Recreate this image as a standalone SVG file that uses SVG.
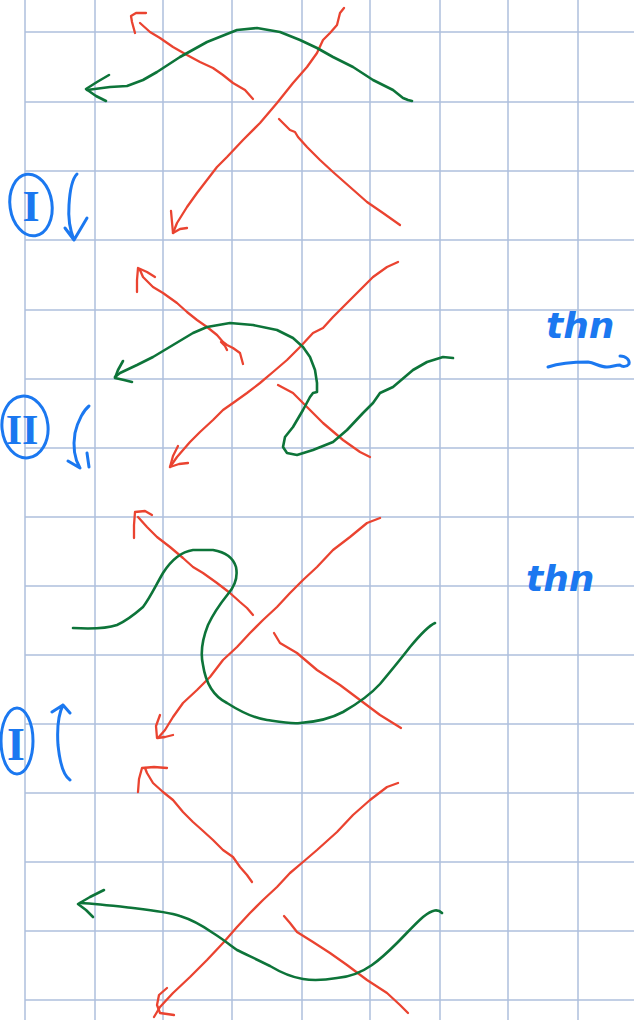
<svg xmlns="http://www.w3.org/2000/svg" width="634" height="1020" viewBox="0 0 634 1020">
<style>
.grid line{stroke:#aebfdd;stroke-width:1.5}
.r{fill:none;stroke:#ea4330;stroke-width:2.3;stroke-linecap:round;stroke-linejoin:round}
.g{fill:none;stroke:#0d7439;stroke-width:2.6;stroke-linecap:round;stroke-linejoin:round}
.b{fill:none;stroke:#1b78f0;stroke-width:3;stroke-linecap:round;stroke-linejoin:round}
.bt{fill:#1b78f0;font-family:'Liberation Serif',serif;font-weight:bold}
.ht{fill:#1b78f0;font-family:'DejaVu Sans',sans-serif;font-style:italic;font-weight:bold}
</style>
<rect width="634" height="1020" fill="#ffffff"/>
<g class="grid">
<line x1="25" y1="0" x2="25" y2="1020"/><line x1="95" y1="0" x2="95" y2="1020"/><line x1="163" y1="0" x2="163" y2="1020"/><line x1="232" y1="0" x2="232" y2="1020"/><line x1="302" y1="0" x2="302" y2="1020"/><line x1="370" y1="0" x2="370" y2="1020"/><line x1="440" y1="0" x2="440" y2="1020"/><line x1="508" y1="0" x2="508" y2="1020"/><line x1="578" y1="0" x2="578" y2="1020"/>
<line x1="25" y1="32" x2="634" y2="32"/><line x1="25" y1="102" x2="634" y2="102"/><line x1="25" y1="171" x2="634" y2="171"/><line x1="25" y1="240" x2="634" y2="240"/><line x1="25" y1="310" x2="634" y2="310"/><line x1="25" y1="379" x2="634" y2="379"/><line x1="25" y1="448" x2="634" y2="448"/><line x1="25" y1="517" x2="634" y2="517"/><line x1="25" y1="586" x2="634" y2="586"/><line x1="25" y1="655" x2="634" y2="655"/><line x1="25" y1="724" x2="634" y2="724"/><line x1="25" y1="793" x2="634" y2="793"/><line x1="25" y1="862" x2="634" y2="862"/><line x1="25" y1="931" x2="634" y2="931"/><line x1="25" y1="1000" x2="634" y2="1000"/>
</g>
<g id="connectors">
<g id="panel1">
<polyline class="r" points="253,99 245,90 233,83 223,75 213,68 200,62 187,55 173,47 160,38 150,32 140,23"/>
<polyline class="r" points="135,33 132,22 131,16 136,13 146,13"/>
<polyline class="r" points="344,8 340,13 337,25 330,33 323,40 317,53 307,67 293,83 277,103 260,123 243,140 227,157 217,167 207,180 197,193 187,207 177,223 173,233"/>
<polyline class="r" points="171,211 172,222 173,233 180,229 187,228"/>
<polyline class="r" points="279,119 285,125 290,130 295,132 298,137 307,147 320,160 333,172 350,187 367,202 383,213 400,225"/>
<polyline class="g" points="412,101 408,100 403,98 393,90 373,80 353,67 333,57 317,48 300,40 280,32 257,28 237,30 207,42 180,57 157,72 143,80 127,86 110,87 87,90"/>
<polyline class="g" points="109,75 97,82 86,89 96,96 106,101"/>
</g>
<g id="panel2">
<polyline class="r" points="243,364 240,353 233,348 227,345 223,342 217,335 207,327 197,320 187,312 177,303 163,293 153,287 143,277 140,270"/>
<polyline class="r" points="221,342 225,346 227,350"/>
<polyline class="r" points="137,292 137,280 138,268 147,272 155,277"/>
<polyline class="r" points="398,262 387,267 373,277 360,290 347,303 333,317 323,328 313,333 300,347 287,360 273,372 260,383 247,393 233,403 223,410 213,420 200,432 190,442 177,457 170,467"/>
<polyline class="r" points="178,446 173,456 170,467 179,464 188,463"/>
<polyline class="r" points="278,385 293,393 307,407 323,423 343,440 360,452 370,457"/>
<polyline class="g" points="453,358 443,357 427,362 413,370 393,387 380,393 373,403 363,413 347,430 333,442 313,450 297,455 287,453 283,447 285,437 293,427 303,410 310,397 313,393 317,392 317,383 315,370 310,357 303,347 293,338 277,330 253,325 230,323 207,327 193,333 173,345 153,357 137,365 120,373 115,377"/>
<polyline class="g" points="123,361 118,370 115,378 124,380 132,382"/>
</g>
<g id="panel3">
<polyline class="r" points="253,615 247,608 240,602 230,593 217,583 203,573 193,567 183,558 170,547 157,537 147,527 138,517"/>
<polyline class="r" points="134,538 134,525 135,512 145,511 152,515"/>
<polyline class="r" points="380,518 367,523 350,537 333,550 317,567 303,580 290,593 277,607 263,620 250,633 237,647 223,660 210,677 197,690 183,703 173,717 165,730 158,738"/>
<polyline class="r" points="160,715 156,726 157,738 165,737 173,735"/>
<polyline class="r" points="274,633 280,643 297,653 317,670 340,685 360,700 380,715 401,728"/>
<path class="g" d="M73,628 C90,629 105,629 117,625 C128,620 135,614 143,607 C150,598 156,585 163,573 C170,562 180,552 193,550 L213,550 C225,552 233,557 236,567 C238,577 235,586 228,594 C220,604 214,612 208,625 C202,640 200,652 203,665 C206,685 215,697 227,703 C238,710 252,718 267,720 C280,722 290,724 300,723 C315,722 330,719 343,712 C357,704 370,695 380,684 C390,672 400,660 410,647 C420,635 428,626 435,623"/>
</g>
<g id="panel4">
<polyline class="r" points="252,882 247,875 240,867 233,857 223,850 213,840 202,830 193,822 183,812 173,800 163,792 153,783 147,773 145,768"/>
<polyline class="r" points="138,792 139,779 142,768 154,767 167,768"/>
<polyline class="r" points="398,783 387,787 370,800 353,815 337,832 317,850 303,862 290,873 277,887 263,900 250,913 237,927 223,943 207,960 190,977 173,993 160,1007 154,1017"/>
<polyline class="r" points="167,988 159,995 157,1005 160,1013 174,1015"/>
<polyline class="r" points="284,916 290,923 297,932 313,942 330,953 347,965 367,980 387,993 400,1005 408,1013"/>
<path class="g" d="M442,913 C438,909 433,909 423,917 C415,924 405,935 397,943 C390,950 382,958 372,965 C362,972 350,977 337,978 C325,980 315,981 303,979 C290,977 280,972 270,966 C258,960 245,954 237,950 C230,945 224,940 213,933 C203,926 193,920 180,916 C168,912 150,910 133,908 C115,906 98,904 80,903"/>
<polyline class="g" points="104,890 90,897 78,904 86,910 93,917"/>
</g>
</g>
<g id="label-I-top">
<ellipse class="b" cx="31" cy="205" rx="21" ry="31" transform="rotate(-8 31 205)"/>
<text class="bt" x="31" y="221" font-size="44" text-anchor="middle">I</text>
<path class="b" d="M77,174 C73,178 70,188 69,205 C68,218 70,230 74,240 M65,228 L74,240 L87,218"/>
</g>
<g id="label-II">
<ellipse class="b" cx="25" cy="427" rx="23" ry="31" transform="rotate(-6 25 427)"/>
<text class="bt" x="22" y="444" font-size="42" text-anchor="middle">II</text>
<path class="b" d="M89,406 C84,410 78,420 75,433 C73,445 74,458 80,468 M68,461 L80,468 M87,453 L89,467"/>
</g>
<g id="label-I-bottom">
<ellipse class="b" cx="17" cy="741" rx="16" ry="33"/>
<text class="bt" x="16" y="760" font-size="46" text-anchor="middle">I</text>
<path class="b" d="M70,780 C64,776 60,765 58,745 C57,730 58,715 63,705 M52,712 L63,705 L70,713"/>
</g>
<g id="label-thn-1">
<text class="ht" x="546" y="338" font-size="36">thn</text>
<path class="b" d="M548,367 C560,363 575,362 588,362 C595,363 600,367 607,367 C612,367 615,365 620,365 M620,356 C626,356 630,360 629,364 C627,367 622,367 620,365"/>
</g>
<g id="label-thn-2">
<text class="ht" x="526" y="591" font-size="36">thn</text>
</g>
</svg>
